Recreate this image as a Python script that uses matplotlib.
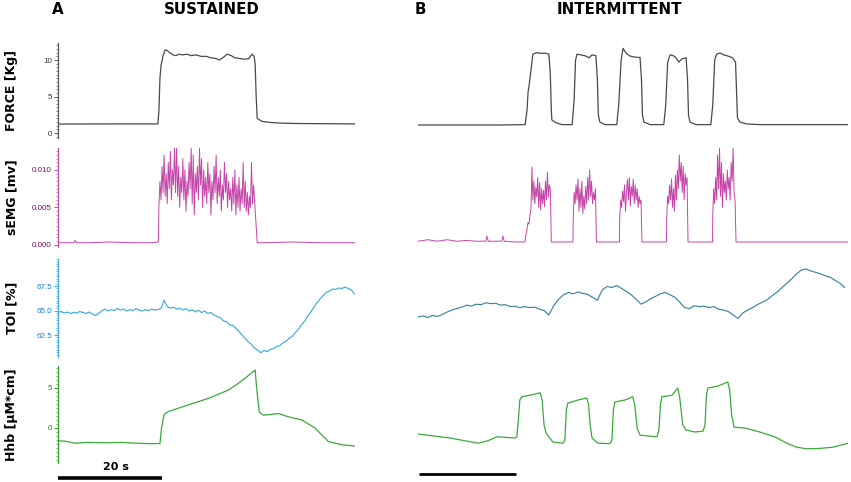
import numpy as np
import matplotlib
matplotlib.use("Agg")
import matplotlib.pyplot as plt
from matplotlib.ticker import MultipleLocator, FixedLocator
import matplotlib.transforms as mtransforms

# ---------------- DATA ----------------
# Panel A (sustained) time axis in seconds
force_a_t = [0.0, 10.0, 19.2, 19.4, 19.6, 19.8, 20.2, 20.6, 21.0, 21.5, 22.1, 22.7, 23.3, 24.0,
             24.8, 25.6, 26.5, 27.5, 28.5, 29.4, 30.4, 31.0, 31.7, 32.5, 33.3, 34.0, 35.0, 36.0,
             36.7, 37.3, 37.7, 37.9, 38.1, 38.3, 39.2, 40.8, 43.1, 46.5, 57.1]
force_a_v = [1.23, 1.25, 1.25, 3.0, 7.5, 9.2, 10.6, 11.4, 11.3, 11.0, 10.7, 10.6, 10.8, 10.7,
             10.8, 10.6, 10.7, 10.5, 10.5, 10.3, 10.2, 10.0, 10.3, 10.8, 10.6, 10.3, 10.2, 10.1,
             10.2, 10.8, 10.5, 9.5, 5.0, 2.0, 1.6, 1.45, 1.35, 1.3, 1.25]

emg_a_pre_t = [0.0, 3.0, 3.3, 3.6, 6.0, 10.0, 14.0, 18.0, 19.3]
emg_a_pre_v = [0.0003, 0.0003, 0.0006, 0.0003, 0.0003, 0.0004, 0.0003, 0.0003, 0.0004]
emg_a_burst_start = 19.4
emg_a_burst_dt = 0.2
emg_a_burst = [0.0050, 0.0085, 0.0060, 0.0105, 0.0070, 0.0120, 0.0065, 0.0095, 0.0055, 0.0110,
               0.0075, 0.0125, 0.0060, 0.0100, 0.0080, 0.0129, 0.0070, 0.0129, 0.0065, 0.0105,
               0.0050, 0.0090, 0.0070, 0.0115, 0.0060, 0.0100, 0.0045, 0.0085, 0.0065, 0.0110,
               0.0075, 0.0129, 0.0055, 0.0120, 0.0040, 0.0095, 0.0070, 0.0105, 0.0060, 0.0129,
               0.0080, 0.0115, 0.0050, 0.0100, 0.0065, 0.0090, 0.0055, 0.0110, 0.0070, 0.0095,
               0.0040, 0.0085, 0.0060, 0.0105, 0.0070, 0.0120, 0.0055, 0.0090, 0.0065, 0.0100,
               0.0045, 0.0080, 0.0060, 0.0110, 0.0070, 0.0095, 0.0050, 0.0085, 0.0060, 0.0075,
               0.0045, 0.0090, 0.0055, 0.0100, 0.0040, 0.0080, 0.0050, 0.0090, 0.0045, 0.0075,
               0.0055, 0.0110, 0.0050, 0.0085, 0.0045, 0.0070, 0.0040, 0.0065, 0.0050, 0.0110,
               0.0055, 0.0080]
emg_a_post_t = [38.3, 40.0, 45.0, 50.0, 54.0, 57.1]
emg_a_post_v = [0.0003, 0.0003, 0.0004, 0.0003, 0.0003, 0.0003]

toi_a_dt = 0.6
toi_a = [64.80, 64.90, 64.75, 64.85, 64.70, 64.80, 64.75, 64.90, 64.80, 64.70, 64.85, 64.65,
         64.50, 64.70, 64.95, 65.15, 64.95, 65.10, 65.00, 65.20, 65.05, 65.15, 64.95, 65.10,
         65.00, 65.20, 65.05, 64.95, 65.10, 65.00, 65.15, 65.05, 65.10, 65.20, 66.05, 65.40,
         65.25, 65.35, 65.15, 65.25, 65.05, 65.20, 64.95, 65.10, 64.85, 65.05, 64.80, 64.95,
         64.70, 64.80, 64.55, 64.40, 64.25, 63.95, 63.85, 63.55, 63.50, 63.20, 62.85, 62.50,
         62.15, 61.80, 61.55, 61.15, 60.95, 60.70, 60.95, 60.80, 61.05, 61.10, 61.35, 61.40,
         61.70, 61.85, 62.15, 62.35, 62.75, 63.05, 63.55, 63.90, 64.45, 64.85, 65.35, 65.80,
         66.20, 66.55, 66.85, 67.00, 67.20, 67.15, 67.30, 67.25, 67.40, 67.25, 67.10, 66.70]

hhb_a_t = [0.0, 1.5, 3.3, 5.8, 9.0, 12.3, 15.0, 17.3, 19.6, 19.9, 20.4, 21.2, 25.1, 28.9,
           32.8, 34.7, 36.3, 37.9, 38.2, 38.7, 39.5, 42.4, 44.3, 46.9, 49.4, 52.0, 54.6, 57.1]
hhb_a_v = [-1.6, -1.65, -1.9, -1.8, -1.85, -1.8, -1.9, -1.95, -1.95, 0.0, 1.7, 2.05, 2.9, 3.7,
           4.75, 5.6, 6.4, 7.25, 4.95, 2.0, 1.6, 1.8, 1.4, 1.0, 0.0, -1.7, -2.1, -2.25]

# Panel B (intermittent)
force_b_t = [0.0, 16.9, 22.1, 22.5, 22.7, 22.9, 23.3, 23.7, 24.5, 25.4, 26.2, 27.0, 27.3, 27.5,
             27.6, 28.5, 29.7, 31.8, 32.2, 32.5, 32.8, 33.6, 34.6, 35.3, 35.9, 36.7, 37.0, 37.2,
             37.5, 38.6, 41.0, 41.4, 41.9, 42.3, 42.9, 43.7, 44.7, 45.8, 46.1, 46.3, 46.6, 47.9,
             50.7, 51.1, 51.5, 52.0, 52.8, 53.4, 53.8, 54.4, 55.3, 55.6, 55.8, 56.1, 57.3, 60.4,
             60.8, 61.2, 61.6, 62.3, 63.1, 63.9, 64.9, 65.5, 65.7, 65.9, 66.4, 67.8, 70.5, 88.7]
force_b_v = [1.1, 1.1, 1.15, 3.15, 5.6, 6.4, 8.6, 10.8, 11.0, 10.9, 10.95, 10.8, 7.9, 3.15,
             1.8, 1.4, 1.15, 1.15, 4.5, 10.0, 10.8, 10.7, 10.55, 10.3, 10.7, 10.6, 7.3, 2.5,
             1.5, 1.15, 1.15, 3.8, 10.0, 11.6, 10.95, 10.55, 10.4, 10.35, 7.3, 2.5, 1.5, 1.15,
             1.15, 3.8, 9.7, 10.7, 10.55, 10.15, 9.7, 10.15, 10.3, 7.3, 2.5, 1.5, 1.15, 1.15,
             3.8, 10.0, 10.8, 10.95, 10.7, 10.55, 10.3, 9.7, 5.9, 2.05, 1.5, 1.25, 1.15, 1.15]

emg_b_pre_t = [0.0, 2.0, 4.0, 6.0, 8.0, 10.0, 12.0, 14.0, 14.2, 14.5, 16.0, 17.3, 17.5, 17.8,
               20.0, 22.0]
emg_b_pre_v = [0.0005, 0.0007, 0.0005, 0.0007, 0.0005, 0.0006, 0.0005, 0.0005, 0.0012, 0.0005,
               0.0005, 0.0005, 0.0012, 0.0005, 0.0004, 0.0004]
emg_b_rest = 0.0004
emg_b_dt = 0.2
emg_b_starts = [22.1, 32.0, 41.6, 51.3, 60.8]
emg_b_burst1 = [0.0007, 0.0015, 0.0022, 0.0030, 0.0028, 0.0040, 0.0047, 0.0104, 0.0060, 0.0085,
                0.0055, 0.0077, 0.0064, 0.0090, 0.0050, 0.0083, 0.0047, 0.0075, 0.0055, 0.0073,
                0.0051, 0.0085, 0.0060, 0.0097, 0.0064, 0.0080, 0.0073]
emg_b_burst2 = [0.0030, 0.0070, 0.0055, 0.0080, 0.0060, 0.0088, 0.0045, 0.0075, 0.0050, 0.0085,
                0.0042, 0.0065, 0.0048, 0.0078, 0.0055, 0.0090, 0.0060, 0.0100, 0.0065, 0.0085,
                0.0055, 0.0070, 0.0060, 0.0075]
emg_b_burst3 = [0.0035, 0.0060, 0.0050, 0.0072, 0.0058, 0.0080, 0.0045, 0.0070, 0.0088, 0.0060,
                0.0090, 0.0052, 0.0078, 0.0065, 0.0088, 0.0055, 0.0080, 0.0060, 0.0075, 0.0050,
                0.0065, 0.0055, 0.0060]
emg_b_burst4 = [0.0035, 0.0065, 0.0055, 0.0080, 0.0060, 0.0088, 0.0050, 0.0075, 0.0045, 0.0093,
                0.0060, 0.0100, 0.0075, 0.0120, 0.0085, 0.0110, 0.0070, 0.0105, 0.0060, 0.0095,
                0.0080, 0.0090]
emg_b_burst5 = [0.0040, 0.0075, 0.0055, 0.0090, 0.0060, 0.0120, 0.0075, 0.0129, 0.0065, 0.0110,
                0.0050, 0.0095, 0.0070, 0.0085, 0.0060, 0.0100, 0.0075, 0.0090, 0.0060, 0.0110,
                0.0085, 0.0129, 0.0070, 0.0060]
emg_b_end_t = 88.7

toi_b_dt = 1.0
toi_b = [64.35, 64.45, 64.30, 64.50, 64.40, 64.60, 64.85, 65.05, 65.20, 65.35, 65.55, 65.45,
         65.65, 65.60, 65.80, 65.70, 65.75, 65.55, 65.60, 65.40, 65.45, 65.30, 65.40, 65.30,
         65.35, 65.15, 65.00, 64.55, 65.50, 66.15, 66.60, 66.85, 66.70, 66.90, 66.75, 66.65,
         66.35, 66.05, 67.10, 67.45, 67.35, 67.55, 67.25, 66.95, 66.60, 66.15, 65.65, 65.90,
         66.20, 66.45, 66.70, 66.85, 66.60, 66.35, 65.85, 65.30, 65.20, 65.50, 65.40, 65.45,
         65.30, 65.40, 65.15, 65.05, 64.90, 64.55, 64.20, 64.75, 65.05, 65.30, 65.60, 65.85,
         66.10, 66.50, 66.85, 67.30, 67.75, 68.20, 68.70, 69.10, 69.25, 69.05, 68.90, 68.75,
         68.55, 68.40, 68.10, 67.80, 67.35]

hhb_b_t = [0.0, 6.6, 12.4, 14.4, 16.3, 20.0, 20.4, 20.7, 21.0, 21.4, 23.1, 25.2, 25.6, 26.0,
           26.4, 27.8, 29.9, 30.3, 30.6, 30.9, 33.0, 34.8, 35.2, 35.5, 35.9, 37.1, 39.6, 40.0,
           40.3, 40.6, 42.7, 44.3, 44.7, 45.2, 45.8, 49.3, 49.7, 50.0, 50.3, 52.4, 53.6, 54.0,
           54.6, 55.3, 57.1, 58.8, 59.2, 59.5, 59.8, 61.9, 63.9, 64.3, 64.7, 65.2, 67.4, 70.5,
           73.6, 76.1, 78.1, 80.2, 82.9, 85.6, 88.7]
hhb_b_v = [-0.75, -1.25, -1.9, -1.6, -1.1, -1.25, -1.1, 1.0, 3.5, 3.9, 4.1, 4.4, 3.5, 0.4,
           -0.6, -1.75, -1.9, -1.5, 2.25, 3.1, 3.5, 3.75, 2.9, 0.4, -1.25, -1.9, -1.95, -1.5,
           2.25, 3.25, 3.5, 3.9, 2.9, 0.0, -0.9, -1.1, -0.25, 2.9, 3.9, 4.1, 5.0, 3.75,
           0.4, -0.25, -0.5, -0.4, 0.4, 4.1, 5.0, 5.25, 5.75, 4.75, 1.6, 0.1, 0.0, -0.5,
           -1.1, -1.9, -2.4, -2.6, -2.55, -2.4, -1.9]

row_labels = ["FORCE [Kg]", "sEMG [mv]", "TOI [%]", "Hhb [\u00b5M*cm]"]
panel_titles = [("A", "SUSTAINED"), ("B", "INTERMITTENT")]
force_ticks = [0, 5, 10]
emg_ticks = [0.000, 0.005, 0.010]
toi_ticks = [62.5, 65.0, 67.5]
hhb_ticks = [0, 5]
scale_bar_s = 20

# ---------------- BUILD SERIES ----------------
def series(vals, dt):
    v = np.asarray(vals, dtype=float)
    return np.arange(len(v)) * dt, v

emg_a_bt, emg_a_bv = series(emg_a_burst, emg_a_burst_dt)
emg_a_t = np.concatenate([emg_a_pre_t, emg_a_bt + emg_a_burst_start, emg_a_post_t])
emg_a_v = np.concatenate([emg_a_pre_v, emg_a_bv, emg_a_post_v])

parts_t = [np.asarray(emg_b_pre_t)]
parts_v = [np.asarray(emg_b_pre_v)]
for start, burst in zip(emg_b_starts, [emg_b_burst1, emg_b_burst2, emg_b_burst3, emg_b_burst4, emg_b_burst5]):
    bt, bv = series(burst, emg_b_dt)
    parts_t += [np.array([start - 0.05]), bt + start, np.array([start + len(burst) * emg_b_dt])]
    parts_v += [np.array([emg_b_rest]), bv, np.array([emg_b_rest])]
parts_t.append(np.array([emg_b_end_t]))
parts_v.append(np.array([emg_b_rest]))
emg_b_t = np.concatenate(parts_t)
emg_b_v = np.concatenate(parts_v)

toi_a_t, toi_a_v = series(toi_a, toi_a_dt)
toi_b_t, toi_b_v = series(toi_b, toi_b_dt)

# ---------------- FIGURE ----------------
W, H = 851, 482
fig = plt.figure(figsize=(W / 100, H / 100), dpi=100)
fig.patch.set_facecolor("white")

rows = [(43, 138), (148, 247), (259, 357), (366, 463)]
ylims = [(-0.68, 12.33), (-0.00027, 0.01293), (60.26, 70.26), (-4.375, 7.75)]
spine_cols = ["#555555", "#c050a8", "#35aee0", "#30a030"]
tick_cols = ["#333333", "#7a1060", "#1a80c8", "#1e8c1e"]
majors = [force_ticks, emg_ticks, toi_ticks, hhb_ticks]
minors = [0.5, 0.0005, 0.25, 0.5]
fmts = ["{:.0f}", "{:.3f}", "{:.1f}", "{:.0f}"]

left_x = (58, 355, 57.1)
right_x = (418, 848, 88.7)

def rect(x0, x1, yt, yb):
    return [x0 / W, 1 - yb / H, (x1 - x0) / W, (yb - yt) / H]

axes_a, axes_b = [], []
for i, (yt, yb) in enumerate(rows):
    axa = fig.add_axes(rect(left_x[0], left_x[1], yt, yb))
    axb = fig.add_axes(rect(right_x[0], right_x[1], yt, yb))
    for ax, xr in ((axa, left_x), (axb, right_x)):
        ax.set_xlim(0, xr[2])
        ax.set_ylim(*ylims[i])
        ax.set_facecolor("none")
    axb.axis("off")
    for s in ("top", "right", "bottom"):
        axa.spines[s].set_visible(False)
    axa.spines["left"].set_color(spine_cols[i])
    axa.spines["left"].set_linewidth(0.9)
    axa.set_xticks([])
    axa.yaxis.set_major_locator(FixedLocator(majors[i]))
    axa.yaxis.set_minor_locator(MultipleLocator(minors[i]))
    axa.set_yticklabels([fmts[i].format(v) for v in majors[i]],
                        fontfamily="Liberation Sans")
    axa.tick_params(axis="y", which="major", length=3.2, width=0.7, color=spine_cols[i],
                    labelsize=5.8, labelcolor=tick_cols[i], pad=1.2)
    axa.tick_params(axis="y", which="minor", length=1.8, width=0.5, color=spine_cols[i])
    axes_a.append(axa)
    axes_b.append(axb)
    fig.text(12 / W, 1 - ((yt + yb) / 2) / H, row_labels[i], rotation=90, ha="center",
             va="center", fontsize=9, fontweight="bold", color="black")

# traces
axes_a[0].plot(force_a_t, force_a_v, color="#4a4a4a", lw=0.9)
axes_b[0].plot(force_b_t, force_b_v, color="#4a4a4a", lw=0.9)
axes_a[1].plot(emg_a_t, emg_a_v, color="#c545a8", lw=0.7)
axes_b[1].plot(emg_b_t, emg_b_v, color="#c545a8", lw=0.7)
axes_a[2].plot(toi_a_t, toi_a_v, color="#2fa8dc", lw=0.8)
axes_b[2].plot(toi_b_t, toi_b_v, color="#2e7f9e", lw=0.8)
axes_a[3].plot(hhb_a_t, hhb_a_v, color="#3aaa3a", lw=0.9)
axes_b[3].plot(hhb_b_t, hhb_b_v, color="#3aaa3a", lw=0.9)

# scale bars
tr_a = mtransforms.blended_transform_factory(axes_a[3].transData, axes_a[3].transAxes)
axes_a[3].plot([0, scale_bar_s], [-0.155, -0.155], transform=tr_a, color="black", lw=2.6,
               clip_on=False, solid_capstyle="butt")
axes_a[3].text(scale_bar_s * 0.56, -0.04, f"{scale_bar_s} s", transform=tr_a, ha="center",
               va="center", fontsize=8, fontweight="bold")
tr_b = mtransforms.blended_transform_factory(axes_b[3].transData, axes_b[3].transAxes)
axes_b[3].plot([0.2, scale_bar_s + 0.2], [-0.113, -0.113], transform=tr_b, color="black",
               lw=2.0, clip_on=False, solid_capstyle="butt")

# titles
for (letter, title), lx, tx in zip(panel_titles, (58, 420), (212, 619)):
    fig.text(lx / W, 1 - 10 / H, letter, ha="center", va="center", fontsize=10.8,
             fontweight="bold")
    fig.text(tx / W, 1 - 10 / H, title, ha="center", va="center", fontsize=10.8,
             fontweight="bold")

fig.savefig("out.png", dpi=100, facecolor="white")
